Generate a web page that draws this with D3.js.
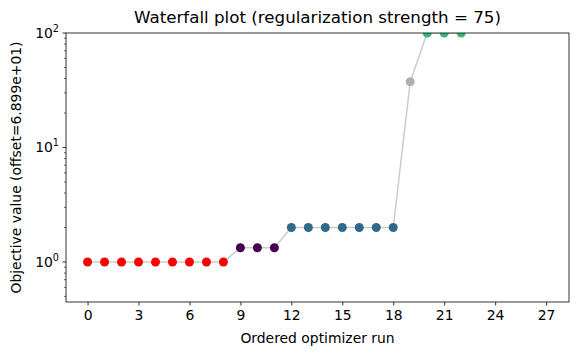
<!DOCTYPE html>
<html><head><meta charset="utf-8">
<script src="https://cdn.jsdelivr.net/npm/d3@7"></script>
<style>body{margin:0;background:#fff}text{font-family:"DejaVu Sans",sans-serif;fill:#000}</style>
</head><body><svg id="c" width="578" height="355"></svg>
<script>
const runs = [0,1,2,3,4,5,6,7,8,9,10,11,12,13,14,15,16,17,18,19,20,21,22];
const values = [1,1,1,1,1,1,1,1,1,1.33,1.33,1.33,2.0,2.0,2.0,2.0,2.0,2.0,2.0,37.5,100,100,100];
const colors = ["#ff0000","#ff0000","#ff0000","#ff0000","#ff0000","#ff0000","#ff0000","#ff0000","#ff0000",
  "#440154","#440154","#440154","#31688e","#31688e","#31688e","#31688e","#31688e","#31688e","#31688e",
  "#b0b0b0","#35b779","#35b779","#35b779"];
const xTicks = [0,3,6,9,12,15,18,21,24,27];
const yMajor = [1,10,100];
const yMinor = [0.5,0.6,0.7,0.8,0.9,2,3,4,5,6,7,8,9,20,30,40,50,60,70,80,90];
const title = "Waterfall plot (regularization strength = 75)";
const xLabel = "Ordered optimizer run";
const yLabel = "Objective value (offset=6.899e+01)";

const svg = d3.select("#c");
const L=66, R=569, T=33, B=302;
const x = d3.scaleLinear().domain([-1.27,28.35]).range([L,R]);
const y = d3.scaleLog().domain([0.447,100]).range([B,T]);

svg.append("defs").append("clipPath").attr("id","clip").append("rect")
  .attr("x",L).attr("y",T).attr("width",R-L).attr("height",B-T);

const g = svg.append("g").attr("clip-path","url(#clip)");
g.append("path").datum(runs.map((r,i)=>[r,values[i]]))
  .attr("d", d3.line().x(d=>x(d[0])).y(d=>y(d[1])))
  .attr("fill","none").attr("stroke","#cccccc").attr("stroke-width",1.5);
g.selectAll("circle").data(runs).join("circle")
  .attr("cx",d=>x(d)).attr("cy",(d,i)=>y(values[i])).attr("r",4.5)
  .attr("fill",(d,i)=>colors[i]);

// axes
const xa = svg.append("g").attr("transform",`translate(0,${B})`)
  .call(d3.axisBottom(x).tickValues(xTicks).tickSize(3.5).tickPadding(5).tickFormat(d3.format("d")));
xa.select(".domain").remove();
xa.selectAll("text").attr("font-size",13.9).attr("font-family","DejaVu Sans");
xa.selectAll("line").attr("stroke-width",0.8);

const ya = svg.append("g").attr("transform",`translate(${L},0)`);
ya.selectAll("line.mn").data(yMinor).join("line").attr("class","mn")
  .attr("x1",0).attr("x2",-2).attr("y1",d=>y(d)).attr("y2",d=>y(d)).attr("stroke","#000").attr("stroke-width",0.6);
ya.selectAll("line.mj").data(yMajor).join("line").attr("class","mj")
  .attr("x1",0).attr("x2",-3.5).attr("y1",d=>y(d)).attr("y2",d=>y(d)).attr("stroke","#000").attr("stroke-width",0.8);
const yt = ya.selectAll("text.yl").data(yMajor).join("text").attr("class","yl")
  .attr("x",-7).attr("y",d=>y(d)+5).attr("text-anchor","end").attr("font-size",13.9);
yt.append("tspan").text("10");
yt.append("tspan").attr("dy",-6).attr("font-size",9.7).text(d=>Math.round(Math.log10(d)));

svg.append("rect").attr("x",L).attr("y",T).attr("width",R-L).attr("height",B-T)
  .attr("fill","none").attr("stroke","#000").attr("stroke-width",0.8);

svg.append("text").attr("x",(L+R)/2).attr("y",23).attr("text-anchor","middle").attr("font-size",16.7).text(title);
svg.append("text").attr("x",(L+R)/2).attr("y",343).attr("text-anchor","middle").attr("font-size",13.9).text(xLabel);
svg.append("text").attr("transform",`translate(21,${(T+B)/2}) rotate(-90)`).attr("text-anchor","middle").attr("font-size",13.9).text(yLabel);
</script></body></html>
